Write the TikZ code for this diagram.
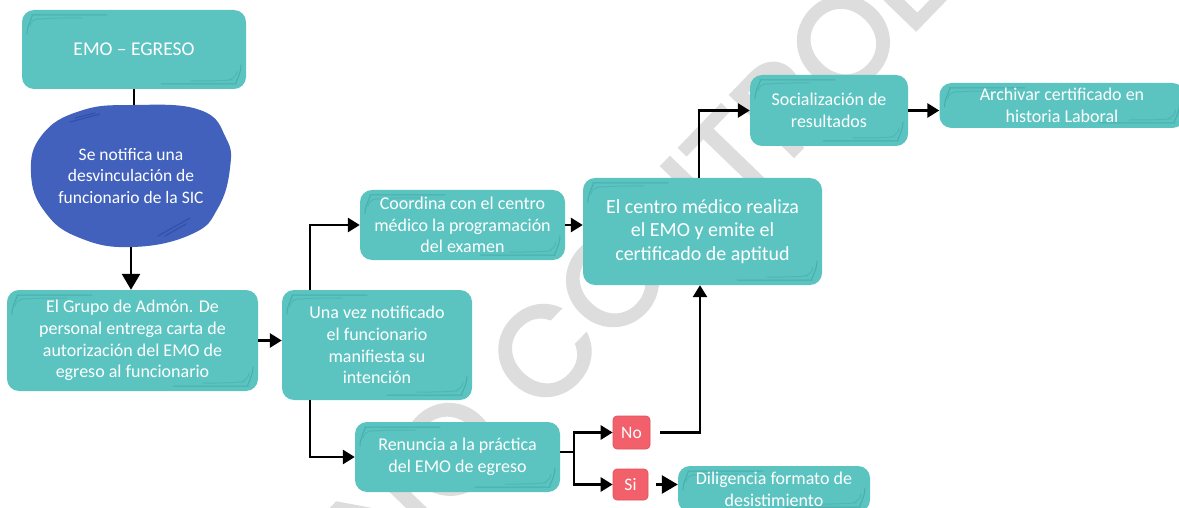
\documentclass[tikz,border=0pt]{standalone}
\usepackage{fontspec}
\setmainfont{Carlito}
\newfontfamily\wmfont{Poppins}[FakeBold=2.5]
\usetikzlibrary{arrows.meta,shapes.geometric,calc}
\definecolor{teal1}{HTML}{5BC4C1}
\definecolor{teal2}{HTML}{46AEAB}
\definecolor{blob1}{HTML}{4161BC}
\definecolor{blob2}{HTML}{3251AA}
\definecolor{red1}{HTML}{F2606B}
\definecolor{red2}{HTML}{E0505C}
\definecolor{wmgray}{HTML}{DDDDDD}
\tikzset{
  sketchline/.style={draw=teal2, line width=1pt, line cap=round},
  box/.style={rectangle, rounded corners=12pt, fill=teal1, text=white, align=center,
    inner sep=0pt, font=\fontsize{18}{21.7}\selectfont,
    path picture={
      \draw[sketchline] ([shift={(5pt,-24pt)}]path picture bounding box.north west)
        to[out=90,in=180] ([shift={(22pt,-5pt)}]path picture bounding box.north west)
        -- ([shift={(85pt,-5pt)}]path picture bounding box.north west);
      \draw[sketchline, opacity=.6] ([shift={(8pt,-16pt)}]path picture bounding box.north west)
        to[out=80,in=185] ([shift={(30pt,-8pt)}]path picture bounding box.north west)
        -- ([shift={(60pt,-8pt)}]path picture bounding box.north west);
      \draw[sketchline] ([shift={(-5pt,24pt)}]path picture bounding box.south east)
        to[out=-90,in=0] ([shift={(-22pt,5pt)}]path picture bounding box.south east)
        -- ([shift={(-85pt,5pt)}]path picture bounding box.south east);
      \draw[sketchline, opacity=.6] ([shift={(-9pt,18pt)}]path picture bounding box.south east)
        to[out=-95,in=5] ([shift={(-28pt,8pt)}]path picture bounding box.south east)
        -- ([shift={(-55pt,8pt)}]path picture bounding box.south east);
    }},
  tag/.style={rectangle, rounded corners=4pt, fill=red1, draw=red2, line width=.7pt,
    text=white, inner sep=0pt, font=\fontsize{17.5}{20}\selectfont},
  blobtext/.style={ellipse, inner sep=0pt, text=white, align=center,
    font=\fontsize{17.5}{21.8}\selectfont},
  wm/.style={text=wmgray, inner sep=0pt, font=\wmfont\fontsize{126}{126}\selectfont},
  ln/.style={line width=2.8pt},
  arr/.style={line width=2.8pt, -{Triangle[length=12pt,width=14pt]}},
  bigarr/.style={line width=2.8pt, -{Triangle[length=16pt,width=18pt]}},
}
\begin{document}
\begin{tikzpicture}[x=1pt,y=-1pt]
\useasboundingbox (0,0) rectangle (1179,508);
\clip (0,0) rectangle (1179,508);
\fill[white] (0,0) rectangle (1179,508);

% watermark
\node[wm, rotate=46, anchor=base west] (wmB) at (542,417) {CONTROLADA};
\node[wm, rotate=46, anchor=base east] (wmA) at (wmB.base west) {COPIA NO\kern0.3em};

% coordinates for elbows
\coordinate (ux) at (310,0);
\coordinate (cx) at (699,0);
\coordinate (nox) at (700,0);
\coordinate (split) at (574,452);

% nodes
\node[box, minimum width=224pt, minimum height=79pt, font=\fontsize{19.5}{22}\selectfont] (emo) at (134,49.5) {EMO – EGRESO};

\fill[blob1] plot[smooth cycle, tension=0.75] coordinates {
  (133,105) (200,110) (226,138) (230,168) (218,208) (192,234) (133,247)
  (80,238) (45,212) (31,173) (42,135) (80,111)};
\draw[blob2, line width=1.2pt, line cap=round] (70,122) -- (100,114);
\draw[blob2, line width=1.2pt, line cap=round] (75,118) -- (95,113);
\draw[blob2, line width=1.2pt, line cap=round] (158,236) -- (190,218);
\draw[blob2, line width=1.2pt, line cap=round] (165,236) -- (186,224);
\node[blobtext, minimum width=200pt, minimum height=142pt] (blob) at (131,176)
  {Se notifica una\\desvinculación de\\funcionario de la SIC};

\node[box, minimum width=251pt, minimum height=101pt] (grupo) at (132.5,340.5)
  {El Grupo de Admón. De\\personal entrega carta de\\autorización del EMO de\\egreso al funcionario};
\node[box, minimum width=190pt, minimum height=110pt] (una) at (377,345)
  {Una vez notificado\\el funcionario\\manifiesta su\\intención};
\node[box, minimum width=205pt, minimum height=70pt] (coord) at (462.5,225)
  {Coordina con el centro\\médico la programación\\del examen};
\node[box, minimum width=239pt, minimum height=107pt, font=\fontsize{20}{23.5}\selectfont] (centro) at (702.5,231.5)
  {El centro médico realiza\\el EMO y emite el\\certificado de aptitud};
\node[box, minimum width=158pt, minimum height=71pt] (soc) at (829,110.5)
  {Socialización de\\resultados};
\node[box, minimum width=245pt, minimum height=45pt] (arch) at (1062,105.5)
  {Archivar certificado en\\historia Laboral};
\node[box, minimum width=205pt, minimum height=70pt] (renun) at (457.5,457)
  {Renuncia a la práctica\\del EMO de egreso};
\node[tag, minimum width=37pt, minimum height=33pt] (no) at (631.5,432.5) {No};
\node[tag, minimum width=35pt, minimum height=31pt] (si) at (630.5,484.5) {Si};
\node[box, minimum width=192pt, minimum height=46pt] (dil) at (774,489)
  {Diligencia formato de\\desistimiento};

% connectors
\draw[line width=2pt] (emo.south) -- (emo.south |- blob.north);
\draw[bigarr] (blob.south) -- (blob.south |- grupo.north);
\draw[arr] (grupo.east) -- (grupo.east -| una.west);
\draw[arr] (una.north -| ux) |- (coord.west);
\draw[arr] (una.south -| ux) |- (renun.west);
\draw[arr] (coord.east) -- (coord.east -| centro.west);
\draw[arr] (centro.north -| cx) |- (soc.west);
\draw[arr] (soc.east) -- (soc.east -| arch.west);
\draw[ln] (renun.east |- split) -- (split);
\draw[arr] (split) |- (no.west);
\draw[arr] (split) |- (si.west);
\draw[arr] ([xshift=10pt]no.east) -| (centro.south -| nox);
\draw[bigarr] ([xshift=8pt]si.east) -- (si.east -| dil.west);
\end{tikzpicture}
\end{document}
